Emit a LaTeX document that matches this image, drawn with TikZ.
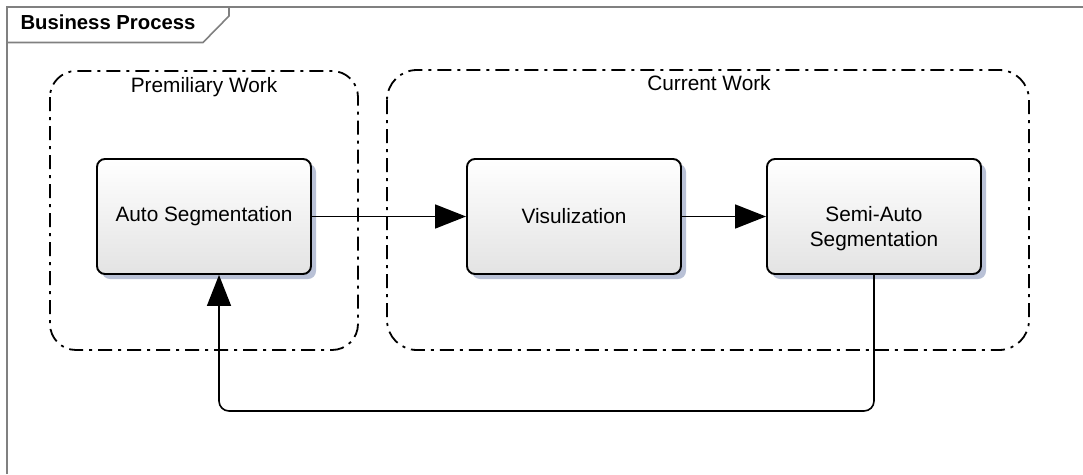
\documentclass[tikz,border=0pt]{standalone}
\usepackage{fontspec}
\setmainfont{Liberation Sans}
\usetikzlibrary{arrows.meta,shadows}
\definecolor{shadowblue}{RGB}{185,193,214}
\definecolor{framegray}{RGB}{128,128,128}
\begin{document}
\begin{tikzpicture}[x=1pt,y=-1pt,
  every node/.style={font=\fontsize{20.8}{25}\selectfont},
  task/.style={draw, line width=1.9pt, rounded corners=8pt,
    minimum width=214pt, minimum height=115pt, inner sep=0pt, align=center,
    top color=white, bottom color=black!11,
    drop shadow={shadow xshift=5pt, shadow yshift=-5pt, fill=shadowblue, opacity=1}},
  group/.style={line width=1.8pt, dash pattern=on 14pt off 6pt on 3pt off 6pt},
  flow/.style={line width=1.6pt, -{Triangle[length=31pt,width=24pt]}},
  framebox/.style={framegray, line width=2pt}
]
\useasboundingbox (0,0) rectangle (1083,474);

% diagram frame and its name tab
\draw[framebox] (7,474) -- (7,6.5) -- (1083,6.5);
\draw[framebox, line width=1.6pt] (7,42.5) -- (203,42.5) -- (229,16) -- (229,6.5);
\node[anchor=base west, font=\fontsize{20.3}{24}\selectfont\bfseries] (title) at (17,29.5) {Business Process};

% groups
\draw[group, rounded corners=26pt] (50,71) rectangle (358,350);
\draw[group, rounded corners=30pt] (387,70) rectangle (1029,350);
\node[anchor=base] (prelbl) at (204,92) {Premiliary Work};
\node[anchor=base] (curlbl) at (709,90) {Current Work};

% activities
\node[task] (auto) at (204,216.5) {Auto Segmentation};
\node[task] (vis) at (574,216.5) {Visulization};
\node[task] (semi) at (874,216.5) {};
\node[align=center] (semitext) at ([yshift=-12pt]semi.center) {Semi-Auto\\Segmentation};

% flows
\draw[flow] (auto) -- (vis);
\draw[flow] (vis) -- (semi);
\coordinate (back) at (0,411);
\draw[flow, rounded corners=10pt] (semi.south) -- (semi.south |- back)
  -- ([xshift=15pt]auto.south |- back) -- ([xshift=15pt]auto.south);
\end{tikzpicture}
\end{document}
